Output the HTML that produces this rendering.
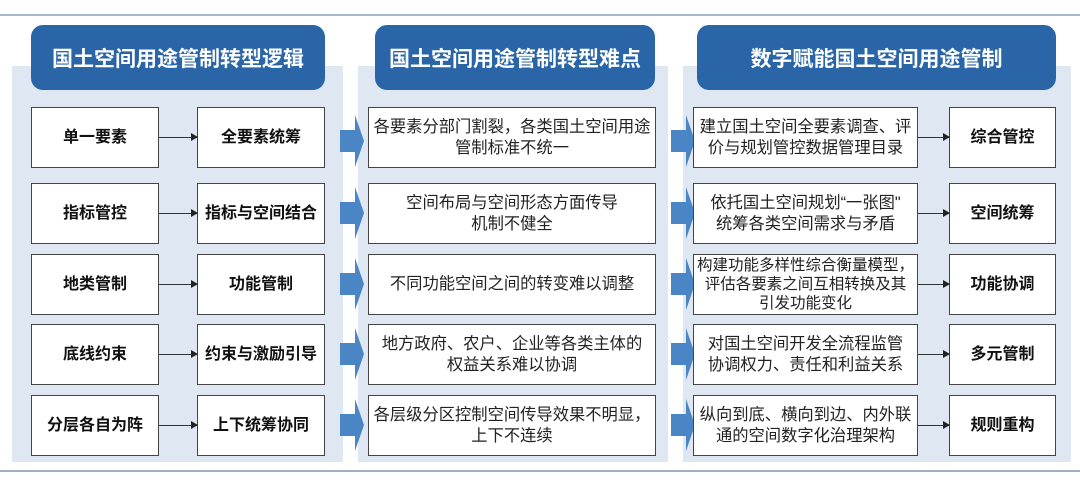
<!DOCTYPE html>
<html><head><meta charset="utf-8"><style>
body{margin:0;width:1080px;height:495px;background:#fff;position:relative;overflow:hidden;font-family:"Liberation Sans","Noto Sans CJK SC",sans-serif}
.a{position:absolute;box-sizing:border-box}
.line{left:0;width:1080px;height:2px;background:#a9b9d2}
.panel{background:#dfe7f2;top:66px;height:396px}
.hdr{background:#2a65a8;border-radius:12px;color:#fff;font-weight:bold;font-size:21px;display:flex;align-items:center;justify-content:center;top:25px;height:65px}
.box{background:#fff;border:1.5px solid #444;display:flex;align-items:center;justify-content:center;text-align:center;height:61px;font-size:16.3px;line-height:21px;color:#222;white-space:nowrap}
.b{font-weight:bold;font-size:16px;color:#111}
.ar{height:1px;background:#333}
.ar:after{content:"";position:absolute;right:-1px;top:-4px;border-left:7px solid #222;border-top:4.5px solid transparent;border-bottom:4.5px solid transparent}
</style></head><body>
<div class="a line" style="top:14px"></div>
<div class="a line" style="top:470px;background:#9fb0c4"></div>
<div class="a panel" style="left:12px;width:331px"></div>
<div class="a panel" style="left:358px;width:310px"></div>
<div class="a panel" style="left:683px;width:388px"></div>
<div class="a hdr" style="left:31px;width:294px">国土空间用途管制转型逻辑</div>
<div class="a hdr" style="left:375px;width:280px">国土空间用途管制转型难点</div>
<div class="a hdr" style="left:697px;width:359px">数字赋能国土空间用途管制</div>
<svg class="a" style="left:0;top:0" width="1080" height="495">
<defs><path id="c" d="M340 130h15v-15l9 26-9 26v-15h-15z"/></defs>
<g fill="#4a86c6">
<use href="#c" y="0"/><use href="#c" y="72"/><use href="#c" y="143"/><use href="#c" y="213"/><use href="#c" y="284"/>
<use href="#c" x="331" y="0"/><use href="#c" x="331" y="72"/><use href="#c" x="331" y="143"/><use href="#c" x="331" y="213"/><use href="#c" x="331" y="284"/>
</g>
</svg>
<div class="a box b" style="left:31px;top:107px;width:128px">单一要素</div>
<div class="a box b" style="left:197px;top:107px;width:128px">全要素统筹</div>
<div class="a box" style="left:368px;top:107px;width:288px">各要素分部门割裂，各类国土空间用途<br>管制标准不统一</div>
<div class="a box" style="left:693px;top:107px;width:225px">建立国土空间全要素调查、评<br>价与规划管控数据管理目录</div>
<div class="a box b" style="left:949px;top:107px;width:107px">综合管控</div>

<div class="a box b" style="left:31px;top:183px;width:128px">指标管控</div>
<div class="a box b" style="left:197px;top:183px;width:128px">指标与空间结合</div>
<div class="a box" style="left:368px;top:183px;width:288px">空间布局与空间形态方面传导<br>机制不健全</div>
<div class="a box" style="left:693px;top:183px;width:225px">依托国土空间规划“一张图"<br>统筹各类空间需求与矛盾</div>
<div class="a box b" style="left:949px;top:183px;width:107px">空间统筹</div>

<div class="a box b" style="left:31px;top:254px;width:128px">地类管制</div>
<div class="a box b" style="left:197px;top:254px;width:128px">功能管制</div>
<div class="a box" style="left:368px;top:254px;width:288px">不同功能空间之间的转变难以调整</div>
<div class="a box" style="left:693px;top:254px;width:225px;line-height:19px;font-size:15.5px">构建功能多样性综合衡量模型，<br>评估各要素之间互相转换及其<br>引发功能变化</div>
<div class="a box b" style="left:949px;top:254px;width:107px">功能协调</div>

<div class="a box b" style="left:31px;top:324px;width:128px">底线约束</div>
<div class="a box b" style="left:197px;top:324px;width:128px">约束与激励引导</div>
<div class="a box" style="left:368px;top:324px;width:288px">地方政府、农户、企业等各类主体的<br>权益关系难以协调</div>
<div class="a box" style="left:693px;top:324px;width:225px">对国土空间开发全流程监管<br>协调权力、责任和利益关系</div>
<div class="a box b" style="left:949px;top:324px;width:107px">多元管制</div>

<div class="a box b" style="left:31px;top:395px;width:128px">分层各自为阵</div>
<div class="a box b" style="left:197px;top:395px;width:128px">上下统筹协同</div>
<div class="a box" style="left:368px;top:395px;width:288px">各层级分区控制空间传导效果不明显，<br>上下不连续</div>
<div class="a box" style="left:693px;top:395px;width:225px">纵向到底、横向到边、内外联<br>通的空间数字化治理架构</div>
<div class="a box b" style="left:949px;top:395px;width:107px">规则重构</div>

<div class="a ar" style="left:159px;top:137px;width:38px"></div>
<div class="a ar" style="left:159px;top:213px;width:38px"></div>
<div class="a ar" style="left:159px;top:284px;width:38px"></div>
<div class="a ar" style="left:159px;top:354px;width:38px"></div>
<div class="a ar" style="left:159px;top:425px;width:38px"></div>
<div class="a ar" style="left:918px;top:137px;width:31px"></div>
<div class="a ar" style="left:918px;top:213px;width:31px"></div>
<div class="a ar" style="left:918px;top:284px;width:31px"></div>
<div class="a ar" style="left:918px;top:354px;width:31px"></div>
<div class="a ar" style="left:918px;top:425px;width:31px"></div>
</body></html>
